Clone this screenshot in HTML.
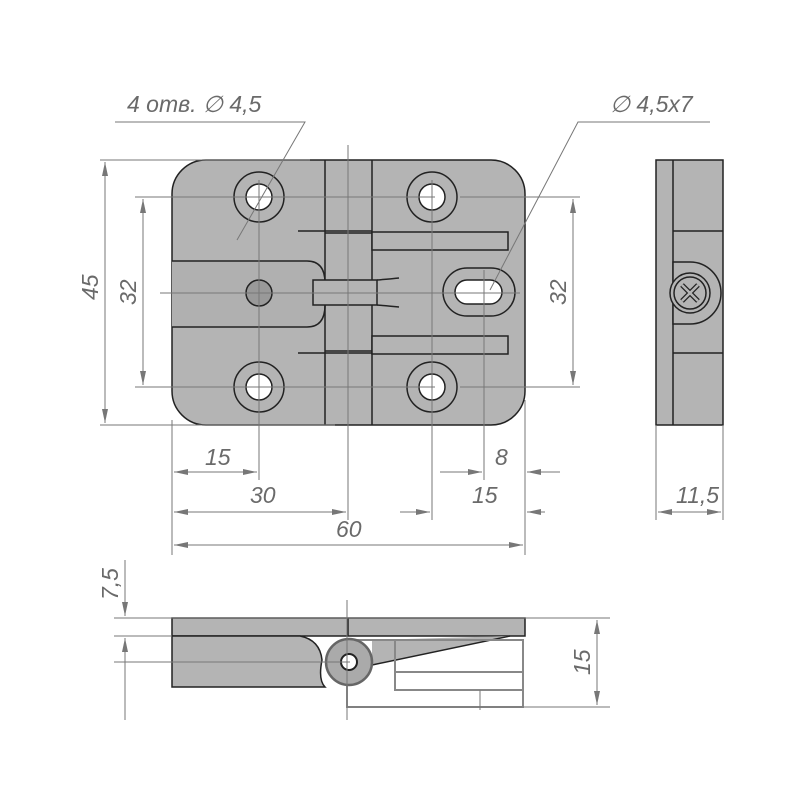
<!DOCTYPE html><html><head><style>body{margin:0;background:#fff}svg{display:block}text{font-family:"Liberation Sans",sans-serif;font-style:italic;fill:#6a6a6a;font-size:23px}</style></head><body>
<svg width="800" height="800" viewBox="0 0 800 800" xmlns="http://www.w3.org/2000/svg">
<defs><marker id="a" viewBox="0 0 14 6" refX="14" refY="3" markerWidth="14" markerHeight="6" markerUnits="userSpaceOnUse" orient="auto-start-reverse"><path d="M0,0L14,3L0,6z" fill="#777"/></marker></defs>
<g stroke="#222" stroke-width="1.5" fill="#b4b4b4">
<rect x="172" y="160" width="353" height="265" rx="34"/>
<path d="M172,261H307Q325,261 325,283V305Q325,327 307,327H172" fill="#b0b0b0"/>
<line x1="325" y1="160" x2="325" y2="425"/><line x1="372" y1="160" x2="372" y2="425"/>
<path d="M298,231H372M298,353H372M325,233H372M325,351H372" fill="none"/>
<rect x="372" y="232" width="136" height="18"/><rect x="372" y="336" width="136" height="18"/>
<rect x="313" y="280" width="64" height="25"/>
<path d="M377,280Q390,279 399,278M377,305Q390,306 399,307" fill="none"/>
<circle cx="259" cy="197" r="25"/><circle cx="432" cy="197" r="25"/><circle cx="259" cy="387" r="25"/><circle cx="432" cy="387" r="25"/>
<g fill="#fff"><circle cx="259" cy="197" r="13"/><circle cx="432" cy="197" r="13"/><circle cx="259" cy="387" r="13"/><circle cx="432" cy="387" r="13"/></g>
<rect x="443" y="268" width="72" height="48" rx="24"/><rect x="455" y="280" width="47" height="24" rx="12" fill="#fff"/>
<circle cx="259" cy="293" r="13" fill="#999"/>
<rect x="656" y="160" width="67" height="265"/><line x1="673" y1="160" x2="673" y2="425"/>
<path d="M673,231H723M673,353H723" fill="none"/>
<path d="M673,262H690A30,30 0 0 1 690,324H673Z"/>
<circle cx="690" cy="293" r="20"/><circle cx="690" cy="293" r="16"/>
<path d="M682,285L698,301M698,285L682,301" stroke-width="5" stroke="#222"/>
<path d="M682,285L698,301M698,285L682,301" stroke-width="2.5" stroke="#b4b4b4"/>
<rect x="172" y="618" width="353" height="18"/>
<path d="M172,636H300Q320,640 322,660Q318,680 325,687H172Z"/>
<line x1="348" y1="618" x2="348" y2="636"/>
<path d="M372,640L510,636L372,665Z" stroke="none"/>
<line x1="372" y1="665" x2="510" y2="636"/>
</g>
<g stroke="#888" stroke-width="2" fill="none"><rect x="395" y="640" width="128" height="50"/><rect x="347" y="640" width="176" height="67"/><line x1="395" y1="672" x2="523" y2="672"/></g>
<circle cx="349" cy="662" r="23" fill="#aaa" stroke="#666" stroke-width="2.5"/><circle cx="349" cy="662" r="8" fill="#fff" stroke="#222" stroke-width="2"/>
<g stroke="#777" stroke-width="1" fill="none">
<path d="M100,160H310M100,425H335M135,197H435M135,387H435M160,293H520M460,197H580M460,387H580M259,180V480M432,180V520M484,270V480M525,400V555M172,420V555M348,145V520M656,425V520M723,425V520M114,618H535M114,662H350M114,636H172M347,707H610M525,618H610M347,600V720M480,690V710"/>
<g marker-end="url(#a)" marker-start="url(#a)">
<path d="M105,162V423"/><path d="M143,199V385"/><path d="M573,199V385"/><path d="M174,472H257"/><path d="M174,512H346"/><path d="M174,545H523"/><path d="M658,512H721"/><path d="M597,620V705"/>
</g>
<g marker-end="url(#a)">
<path d="M440,472H482"/><path d="M560,472H527"/><path d="M400,512H430"/><path d="M545,512H527"/><path d="M125,580V616"/><path d="M125,700V638"/>
</g>
<path d="M125,560V580M125,700V720"/>
<path d="M115,122H305L237,240M710,122H578L490,290"/>
</g>
<text x="127" y="112">4 отв. ∅ 4,5</text><text x="610" y="112">∅ 4,5x7</text>
<text x="205" y="465">15</text><text x="495" y="465">8</text><text x="250" y="503">30</text><text x="472" y="503">15</text><text x="336" y="537">60</text><text x="676" y="503">11,5</text>
<text transform="translate(98,300) rotate(-90)">45</text><text transform="translate(136,305) rotate(-90)">32</text><text transform="translate(566,305) rotate(-90)">32</text>
<text transform="translate(118,600) rotate(-90)">7,5</text><text transform="translate(590,675) rotate(-90)">15</text>
</svg></body></html>
